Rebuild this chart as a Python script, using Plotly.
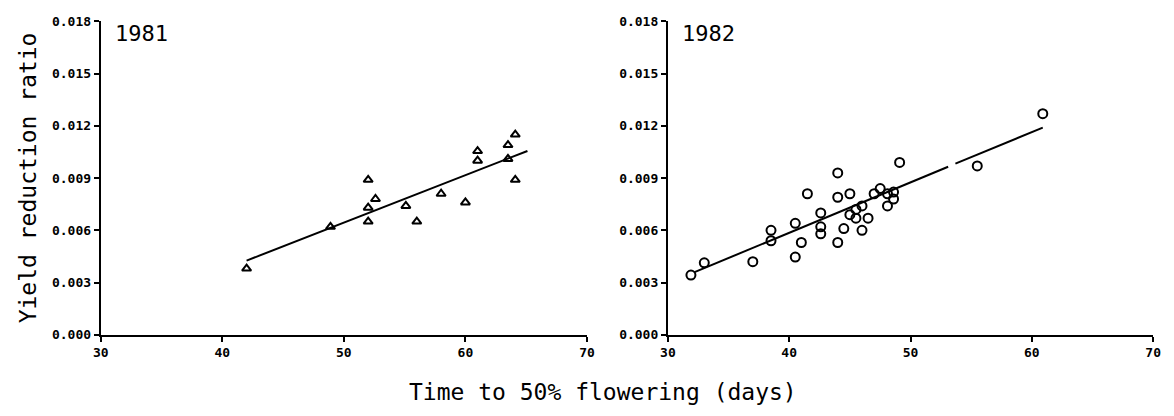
import plotly.graph_objects as go

# ---- data ----
x1981 = [42.0, 48.9, 52.0, 52.6, 52.0, 52.0, 55.1, 56.0, 58.0, 60.0, 61.0, 61.0, 63.5, 63.5, 64.1, 64.1]
y1981 = [0.0038, 0.0062, 0.0089, 0.0078, 0.0073, 0.0065, 0.0074, 0.0065, 0.0081, 0.0076,
         0.01055, 0.0100, 0.0109, 0.0101, 0.0115, 0.0089]
fit1981_x = [42.0, 65.1]
fit1981_y = [0.00426, 0.01056]

x1982 = [31.9, 33.0, 37.0, 38.5, 38.5, 40.5, 40.5, 41.0, 41.5, 42.6, 42.6, 42.6, 44.0, 44.0, 44.0,
         44.5, 45.0, 45.0, 45.5, 45.5, 46.0, 46.0, 46.5, 47.0, 47.5, 48.1, 48.1, 48.6, 48.6, 49.1,
         55.5, 60.9]
y1982 = [0.00343, 0.00413, 0.0042, 0.0060, 0.0054, 0.0064, 0.00446, 0.0053, 0.0081, 0.0070, 0.0062,
         0.0058, 0.0093, 0.0079, 0.0053, 0.0061, 0.0081, 0.0069, 0.0072, 0.0067, 0.0074, 0.0060,
         0.0067, 0.0081, 0.0084, 0.0074, 0.0081, 0.0078, 0.0082, 0.0099, 0.0097, 0.0127]
fit1982_x = [32.2, 53.1, None, 53.7, 60.9]
fit1982_y = [0.0036, 0.00965, None, 0.00983, 0.0119]

xticks = [30, 40, 50, 60, 70]
yticks = [0.000, 0.003, 0.006, 0.009, 0.012, 0.015, 0.018]
ytick_text = ["0.000", "0.003", "0.006", "0.009", "0.012", "0.015", "0.018"]

W, H = 1174, 416
FONT = "DejaVu Sans Mono"

fig = go.Figure()

fig.add_trace(go.Scatter(x=fit1981_x, y=fit1981_y, mode="lines",
                         line=dict(color="black", width=2), xaxis="x", yaxis="y",
                         showlegend=False, connectgaps=False))
fig.add_trace(go.Scatter(x=x1981, y=y1981, mode="markers",
                         marker=dict(symbol="triangle-up-open", size=8, color="black",
                                     line=dict(width=2, color="black")),
                         xaxis="x", yaxis="y", showlegend=False))
fig.add_trace(go.Scatter(x=fit1982_x, y=fit1982_y, mode="lines",
                         line=dict(color="black", width=2), xaxis="x2", yaxis="y2",
                         showlegend=False, connectgaps=False))
fig.add_trace(go.Scatter(x=x1982, y=y1982, mode="markers",
                         marker=dict(symbol="circle-open", size=9, color="black",
                                     line=dict(width=2, color="black")),
                         xaxis="x2", yaxis="y2", showlegend=False))

ydom = [1 - 340 / H, 1 - 15 / H]
axis_common = dict(showline=True, linecolor="black", linewidth=2, ticks="outside",
                   ticklen=5, tickwidth=2, tickcolor="black", showgrid=False, zeroline=False,
                   tickfont=dict(family=FONT, size=13, color="black", weight="bold"))

fig.update_layout(
    width=W, height=H,
    margin=dict(l=0, r=0, t=0, b=0),
    paper_bgcolor="white", plot_bgcolor="white",
    xaxis=dict(domain=[94 / W, 587 / W], range=[30, 70], tickvals=xticks, anchor="y", **axis_common),
    yaxis=dict(domain=ydom, range=[0, 0.018], tickvals=yticks, ticktext=ytick_text, anchor="x",
               **axis_common),
    xaxis2=dict(domain=[669 / W, 1161 / W], range=[30, 70], tickvals=xticks, anchor="y2", **axis_common),
    yaxis2=dict(domain=ydom, range=[0, 0.018], tickvals=yticks, ticktext=ytick_text, anchor="x2",
                **axis_common),
    annotations=[
        dict(text="1981", x=106 / W, y=1 - 28 / H, xref="paper", yref="paper",
             xanchor="left", yanchor="middle", showarrow=False,
             font=dict(family=FONT, size=22, color="black")),
        dict(text="1982", x=681 / W, y=1 - 28 / H, xref="paper", yref="paper",
             xanchor="left", yanchor="middle", showarrow=False,
             font=dict(family=FONT, size=22, color="black")),
        dict(text="Yield reduction ratio", x=20 / W, y=1 - 177 / H, xref="paper", yref="paper",
             xanchor="center", yanchor="middle", textangle=-90, showarrow=False,
             font=dict(family=FONT, size=23, color="black")),
        dict(text="Time to 50% flowering (days)", x=603 / W, y=1 - 399 / H, xref="paper", yref="paper",
             xanchor="center", yanchor="middle", showarrow=False,
             font=dict(family=FONT, size=23, color="black")),
    ],
)

fig.write_html("out.html")
